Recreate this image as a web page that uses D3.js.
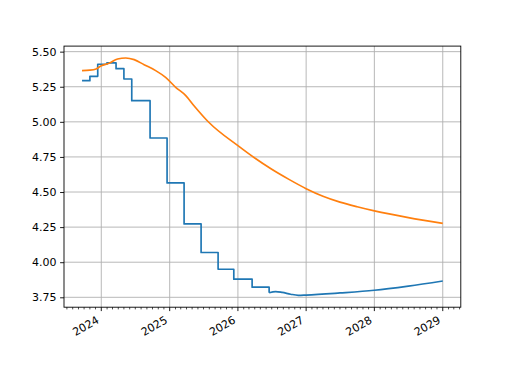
<!DOCTYPE html>
<html>
<head>
<meta charset="utf-8">
<script src="https://cdn.jsdelivr.net/npm/d3@7"></script>
<style>
  body { margin: 0; background: #fff; }
  text { font-family: "DejaVu Sans", sans-serif; fill: #000; }
</style>
</head>
<body>
<div id="chart"></div>
<script>
// blue series: step part (FOMC-like dates), then a smooth tail
var stepDates = ['2023-09-20', '2023-11-01', '2023-12-13', '2024-01-31', '2024-03-20', '2024-05-01',
  '2024-06-12', '2024-09-18', '2024-12-18', '2025-03-19', '2025-06-18', '2025-09-17',
  '2025-12-10', '2026-03-18'];
var stepValues = [5.293, 5.324, 5.410, 5.420, 5.379, 5.305,
  5.151, 4.885, 4.565, 4.273, 4.069, 3.950,
  3.879, 3.822];
var tailDates = ['2026-06-17', '2026-07-22', '2026-08-26', '2026-10-10', '2026-11-20', '2027-01-01',
  '2027-07-01', '2028-01-01', '2028-07-01', '2029-01-01'];
var tailValues = [3.782, 3.791, 3.785, 3.772, 3.764, 3.766,
  3.781, 3.800, 3.830, 3.866];

// orange series
var orangeDates = ['2023-09-20', '2023-11-01', '2023-12-04', '2024-01-01', '2024-02-12', '2024-03-28',
  '2024-05-11', '2024-06-25', '2024-08-17', '2024-10-18', '2024-12-10', '2025-02-02',
  '2025-03-28', '2025-05-11', '2025-07-29', '2026-01-01', '2026-04-01', '2026-07-01',
  '2026-10-01', '2027-01-01', '2027-04-01', '2027-07-01', '2027-10-01', '2028-01-01',
  '2028-07-01', '2029-01-01'];
var orangeValues = [5.365, 5.368, 5.377, 5.400, 5.417, 5.448,
  5.455, 5.443, 5.407, 5.365, 5.317, 5.246,
  5.187, 5.115, 4.997, 4.830, 4.742, 4.662,
  4.590, 4.524, 4.470, 4.428, 4.395, 4.366,
  4.318, 4.277];

var yTicks = [3.75, 4.00, 4.25, 4.50, 4.75, 5.00, 5.25, 5.50];

var width = 512, height = 384,
  margin = { left: 64, right: 51.2, top: 46.1, bottom: 76.8 },
  plotW = width - margin.left - margin.right,
  plotH = height - margin.top - margin.bottom;

var parse = d3.utcParse('%Y-%m-%d');

// expand the step part into explicit corners, ending where the tail starts
var blueSteps = [];
stepDates.forEach(function(d, i) {
  var next = i < stepDates.length - 1 ? stepDates[i + 1] : tailDates[0];
  blueSteps.push({ date: parse(d), value: stepValues[i] });
  blueSteps.push({ date: parse(next), value: stepValues[i] });
});
var blueTail = tailDates.map(function(d, i) {
  return { date: parse(d), value: tailValues[i] };
});
// vertical drop into the tail
blueSteps.push(blueTail[0]);

var orange = orangeDates.map(function(d, i) {
  return { date: parse(d), value: orangeValues[i] };
});

var all = blueSteps.concat(blueTail, orange);

// matplotlib style 5% margins
var xExt = d3.extent(all, function(d) { return +d.date; }),
  yExt = d3.extent(all, function(d) { return d.value; }),
  xPad = (xExt[1] - xExt[0]) * 0.05,
  yPad = (yExt[1] - yExt[0]) * 0.05;

var x = d3.scaleUtc()
  .domain([new Date(xExt[0] - xPad), new Date(xExt[1] + xPad)])
  .range([0, plotW]);

var y = d3.scaleLinear()
  .domain([yExt[0] - yPad, yExt[1] + yPad])
  .range([plotH, 0]);

var svg = d3.select('#chart')
  .append('svg')
  .attr('width', width)
  .attr('height', height);

svg.append('rect')
  .attr('width', width)
  .attr('height', height)
  .attr('fill', '#fff');

var g = svg.append('g')
  .attr('transform', 'translate(' + margin.left + ',' + margin.top + ')');

var yearTicks = x.ticks(d3.utcYear.every(1));
var monthTicks = x.ticks(d3.utcMonth.every(1)).filter(function(d) { return d.getUTCMonth() !== 0; });

// grid
g.append('g').selectAll('line.vgrid')
  .data(yearTicks)
  .enter().append('line')
  .attr('class', 'vgrid')
  .attr('x1', function(d) { return x(d); })
  .attr('x2', function(d) { return x(d); })
  .attr('y1', 0)
  .attr('y2', plotH)
  .attr('stroke', '#b0b0b0')
  .attr('stroke-width', 0.9);

g.append('g').selectAll('line.hgrid')
  .data(yTicks)
  .enter().append('line')
  .attr('class', 'hgrid')
  .attr('x1', 0)
  .attr('x2', plotW)
  .attr('y1', function(d) { return y(d); })
  .attr('y2', function(d) { return y(d); })
  .attr('stroke', '#b0b0b0')
  .attr('stroke-width', 0.9);

// lines
var line = d3.line()
  .x(function(d) { return x(d.date); })
  .y(function(d) { return y(d.value); });

var smooth = d3.line()
  .curve(d3.curveMonotoneX)
  .x(function(d) { return x(d.date); })
  .y(function(d) { return y(d.value); });

g.append('path')
  .datum(blueSteps)
  .attr('d', line)
  .attr('fill', 'none')
  .attr('stroke', '#1f77b4')
  .attr('stroke-width', 1.67)
  .attr('stroke-linejoin', 'round');

g.append('path')
  .datum(blueTail)
  .attr('d', smooth)
  .attr('fill', 'none')
  .attr('stroke', '#1f77b4')
  .attr('stroke-width', 1.67)
  .attr('stroke-linejoin', 'round');

g.append('path')
  .datum(orange)
  .attr('d', smooth)
  .attr('fill', 'none')
  .attr('stroke', '#ff7f0e')
  .attr('stroke-width', 1.67)
  .attr('stroke-linejoin', 'round');

// frame
g.append('rect')
  .attr('width', plotW)
  .attr('height', plotH)
  .attr('fill', 'none')
  .attr('stroke', '#000')
  .attr('stroke-width', 0.9);

// y axis
var yAxis = g.append('g')
  .call(d3.axisLeft(y).tickValues(yTicks).tickFormat(d3.format('.2f')).tickSize(3.9).tickPadding(3.5));
yAxis.select('.domain').remove();
yAxis.selectAll('line').attr('stroke', '#000').attr('stroke-width', 0.9);
yAxis.selectAll('text').style('font-size', '11px').style('font-family', '"DejaVu Sans", sans-serif');

// x axis: minor monthly ticks, major yearly ticks with rotated labels
var xAxis = g.append('g').attr('transform', 'translate(0,' + plotH + ')');

xAxis.selectAll('line.minor')
  .data(monthTicks)
  .enter().append('line')
  .attr('class', 'minor')
  .attr('x1', function(d) { return x(d); })
  .attr('x2', function(d) { return x(d); })
  .attr('y1', 0)
  .attr('y2', 2.2)
  .attr('stroke', '#000')
  .attr('stroke-width', 0.7);

xAxis.selectAll('line.major')
  .data(yearTicks)
  .enter().append('line')
  .attr('class', 'major')
  .attr('x1', function(d) { return x(d); })
  .attr('x2', function(d) { return x(d); })
  .attr('y1', 0)
  .attr('y2', 3.9)
  .attr('stroke', '#000')
  .attr('stroke-width', 0.9);

xAxis.selectAll('text.year')
  .data(yearTicks)
  .enter().append('text')
  .attr('class', 'year')
  .attr('transform', function(d) { return 'translate(' + (x(d) - 1.5) + ',15) rotate(-30)'; })
  .attr('text-anchor', 'end')
  .style('font-size', '11px')
  .text(d3.utcFormat('%Y'));
</script>
</body>
</html>
